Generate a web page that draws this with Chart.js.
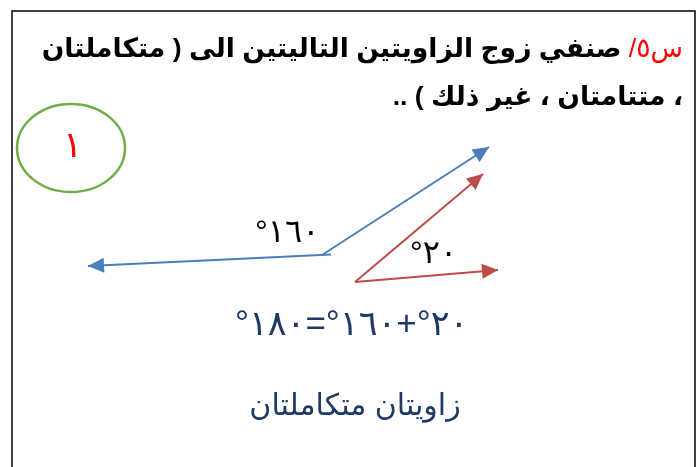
<!DOCTYPE html>
<html>
<head>
<meta charset="utf-8">
<script src="https://cdn.jsdelivr.net/npm/chart.js@4"></script>
<style>
  html, body { margin: 0; padding: 0; background: #fff; }
  #wrap { position: relative; width: 698px; height: 467px; overflow: hidden; }
  #chart { position: absolute; left: 0; top: 0; }
  .txt { position: absolute; white-space: nowrap; line-height: 1; font-family: "Liberation Sans", "DejaVu Sans", sans-serif; }
  .title { right: 15px; font-size: 26.6px; font-weight: bold; color: #000; direction: rtl; text-align: right; }
  .ltr { direction: ltr; unicode-bidi: bidi-override; }
</style>
</head>
<body>
<div id="wrap">
  <canvas id="chart" width="698" height="467"></canvas>
  <div class="txt title" style="top:35px;"><span style="color:#ff0000;font-weight:normal;">س٥/</span> صنفي زوج الزاويتين التاليتين الى ( متكاملتان</div>
  <div class="txt title" style="top:83px;">، متتامتان ، غير ذلك ) ..</div>
  <div class="txt" style="left:63px;top:127px;font-size:36px;color:#ff0000;">١</div>
  <div class="txt ltr" style="left:255px;top:215px;font-size:32px;letter-spacing:4px;color:#000;">°١٦٠</div>
  <div class="txt ltr" style="left:410px;top:236px;font-size:32px;letter-spacing:3px;color:#000;">°٢٠</div>
  <div class="txt ltr" style="left:235px;top:305px;font-size:35px;letter-spacing:1.4px;color:#1f3864;">°١٨٠=°١٦٠+°٢٠</div>
  <div class="txt" style="left:0;width:710px;text-align:center;top:390px;font-size:30px;color:#1f3864;direction:rtl;">زاويتان متكاملتان</div>
</div>
<script>
/* ── Data (slide coordinates, px) ───────────────────────── */
const frameLine     = [[12, 467], [12, 11], [695, 11], [695, 467]];
const blueLeftRay   = [[331, 254.5], [88, 266]];
const blueUpRay     = [[322, 255], [489, 147]];
const redRightRay   = [[355, 282], [498, 270]];
const redUpRay      = [[355, 282], [483, 174]];
const circleCenter  = [71, 148];
const circleRadii   = [54, 44];

const BLUE  = '#4a7ebb';
const RED   = '#be4b48';
const GREEN = '#70ad47';

const pts = arr => arr.map(p => ({ x: p[0], y: p[1] }));

function ray(data, color, arrow) {
  return {
    data: pts(data),
    showLine: true,
    borderColor: color,
    backgroundColor: color,
    borderWidth: 2,
    pointRadius: 0,
    arrow: arrow,
  };
}

/* ── Arrowheads + ellipse ───────────────────────────────── */
const decorPlugin = {
  id: 'decor',
  beforeDatasetsDraw(chart) {
    const { ctx, scales: { x, y } } = chart;
    ctx.save();
    ctx.strokeStyle = GREEN;
    ctx.lineWidth = 2.5;
    ctx.beginPath();
    ctx.ellipse(x.getPixelForValue(circleCenter[0]), y.getPixelForValue(circleCenter[1]),
      Math.abs(x.getPixelForValue(circleRadii[0]) - x.getPixelForValue(0)),
      Math.abs(y.getPixelForValue(circleRadii[1]) - y.getPixelForValue(0)), 0, 0, Math.PI * 2);
    ctx.stroke();
    ctx.restore();
  },
  afterDatasetsDraw(chart) {
    const { ctx, scales: { x, y } } = chart;
    chart.data.datasets.forEach(ds => {
      if (!ds.arrow) return;
      const n = ds.data.length;
      const a = ds.data[n - 2], b = ds.data[n - 1];
      const x1 = x.getPixelForValue(a.x), y1 = y.getPixelForValue(a.y);
      const x2 = x.getPixelForValue(b.x), y2 = y.getPixelForValue(b.y);
      const ang = Math.atan2(y2 - y1, x2 - x1);
      const len = 16, half = 7.5;
      ctx.save();
      ctx.fillStyle = ds.borderColor;
      ctx.translate(x2, y2);
      ctx.rotate(ang);
      ctx.beginPath();
      ctx.moveTo(0, 0);
      ctx.lineTo(-len, -half);
      ctx.lineTo(-len, half);
      ctx.closePath();
      ctx.fill();
      ctx.restore();
    });
  }
};

new Chart(document.getElementById('chart'), {
  type: 'scatter',
  data: {
    datasets: [
      Object.assign(ray(frameLine, '#000', false), { borderWidth: 1.5 }),
      ray(blueLeftRay, BLUE, true),
      ray(blueUpRay, BLUE, true),
      ray(redRightRay, RED, true),
      ray(redUpRay, RED, true),
    ]
  },
  options: {
    responsive: false,
    animation: false,
    layout: { padding: 0 },
    plugins: { legend: { display: false }, tooltip: { enabled: false } },
    scales: {
      x: { type: 'linear', min: 0, max: 698, display: false },
      y: { type: 'linear', min: 0, max: 467, reverse: true, display: false },
    }
  },
  plugins: [decorPlugin]
});
</script>
</body>
</html>
